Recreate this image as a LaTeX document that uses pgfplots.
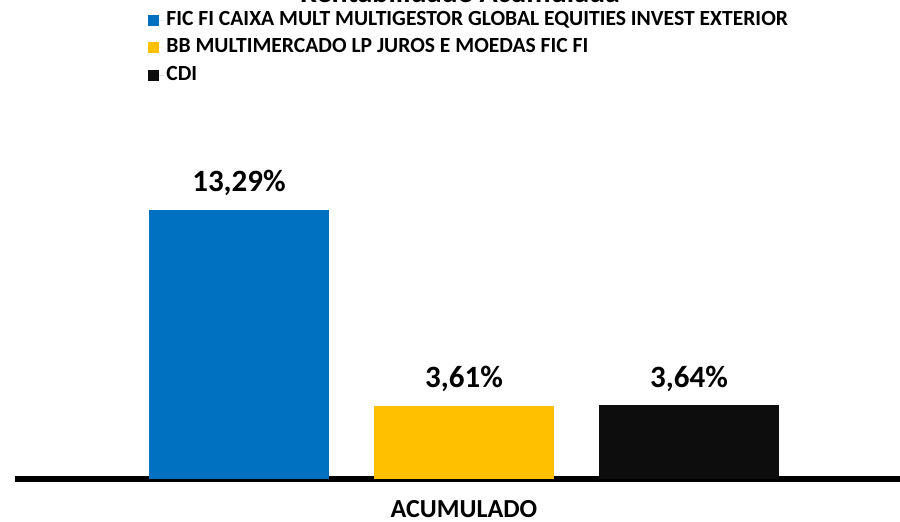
\documentclass[border=0pt]{standalone}
\usepackage{fontspec}
\setmainfont{Carlito}
\usepackage{pgfplots}
\pgfplotsset{compat=1.18}
\definecolor{cblue}{HTML}{0070C0}
\definecolor{cyel}{HTML}{FFC000}
\definecolor{cblk}{HTML}{0D0D0D}
\begin{document}
\begin{tikzpicture}
\begin{axis}[
  at={(7.5pt,21.5pt)}, anchor=south west,
  scale only axis, width=442.5pt, height=202.5pt,
  xmin=-0.99556, xmax=2.93778, ymin=0, ymax=20,
  axis y line=none,
  axis x line=bottom,
  x axis line style={-, line width=3pt, black},
  ybar, bar width=0.8, bar shift=0pt,
  /pgf/number format/assume math mode=true,
  xtick={1}, xticklabels={ACUMULADO}, major tick length=0pt, ytick=\empty,
  xticklabel style={anchor=center, yshift=-15pt, font=\fontsize{13}{15}\selectfont\bfseries},
  nodes near coords={\pgfmathprintnumber[fixed,precision=2,fixed zerofill,use comma,assume math mode=true]{\pgfplotspointmeta}\%},
  every node near coord/.append style={anchor=base, yshift=9pt, black, font=\fontsize{15.5}{18}\selectfont\bfseries},
  legend style={at={(0.1503,1.1605)}, anchor=north west, draw=none, fill=none, inner sep=0pt,
    font=\fontsize{10.8}{12}\selectfont\bfseries, row sep=2.75pt,
    nodes={inner sep=1pt, text height=7pt, text depth=2pt}},
  legend cell align=left,
  legend image code/.code={\fill[#1] (0pt,-2.75pt) rectangle (5.5pt,2.75pt); \path (0pt,0pt) -- (8pt,0pt);},
]
\addplot[fill=cblue, draw=none] coordinates {(0,13.29)};
\addplot[fill=cyel, draw=none] coordinates {(1,3.61)};
\addplot[fill=cblk, draw=none] coordinates {(2,3.64)};
\legend{FIC FI CAIXA MULT MULTIGESTOR GLOBAL EQUITIES INVEST EXTERIOR, BB MULTIMERCADO LP JUROS E MOEDAS FIC FI, CDI}
\end{axis}
\node[anchor=base, font=\fontsize{15}{18}\selectfont\bfseries] at (230pt,259.5pt) {Rentabilidade Acumulada};
\pgfresetboundingbox
\useasboundingbox (0,0) rectangle (450pt,261pt);
\end{tikzpicture}
\end{document}
